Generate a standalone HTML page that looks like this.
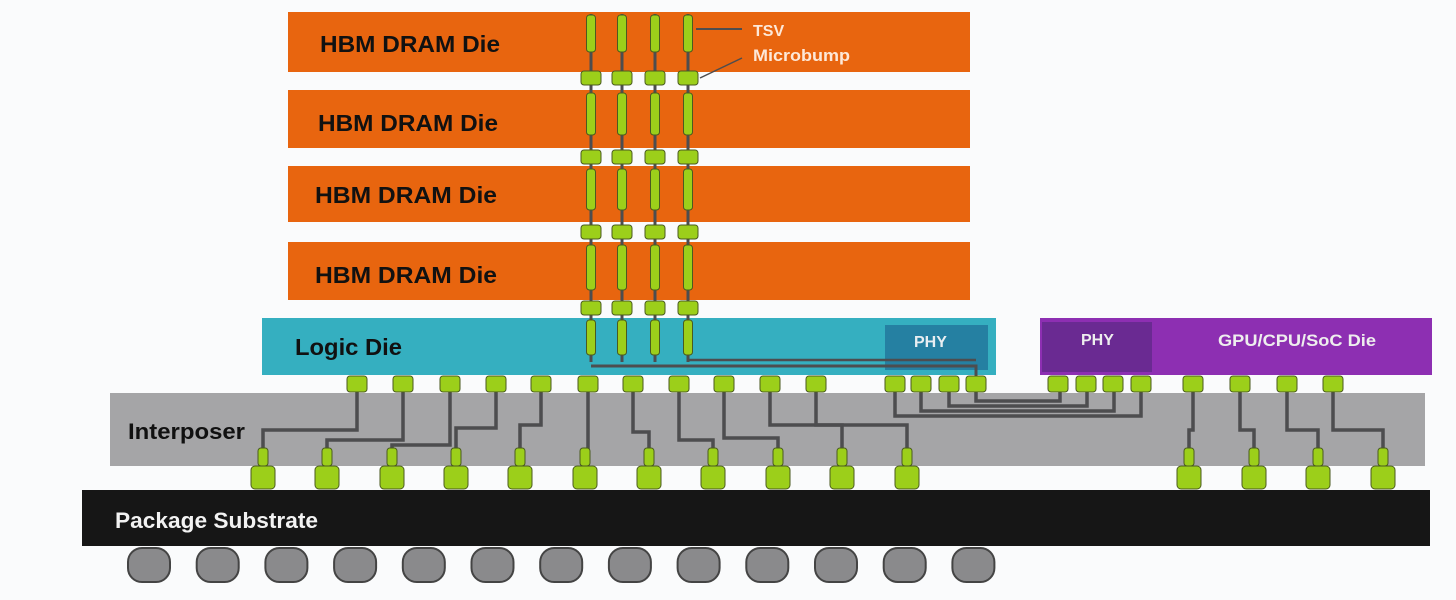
<!DOCTYPE html>
<html><head><meta charset="utf-8"><style>
html,body{margin:0;padding:0;background:#fafbfc;width:1456px;height:600px;overflow:hidden}
svg{display:block}
text{font-family:"Liberation Sans",sans-serif;font-weight:bold}
</style></head><body>
<svg id="s" width="1456" height="600" viewBox="0 0 1456 600" xmlns="http://www.w3.org/2000/svg">
<rect x="0" y="0" width="1456" height="600" fill="#fafbfc"/>
<g id="dies">
<rect x="288" y="12" width="682" height="60" fill="#e8650f"/>
<rect x="288" y="90" width="682" height="58" fill="#e8650f"/>
<rect x="288" y="166" width="682" height="56" fill="#e8650f"/>
<rect x="288" y="242" width="682" height="58" fill="#e8650f"/>
<rect x="262" y="318" width="734" height="57" fill="#35afc0"/>
<rect x="885" y="325" width="103" height="45" fill="#2580a2"/>
<rect x="1040" y="318" width="392" height="57" fill="#8d2fb2"/>
<rect x="1042" y="322" width="110" height="50" fill="#6a2a92"/>
<rect x="110" y="393" width="1315" height="73" fill="#a5a5a7"/>
<rect x="82" y="490" width="1348" height="56" fill="#161616"/>
</g>
<g id="wires" stroke="#4d4d4f" stroke-width="3.5" fill="none"></g>
<g id="parts"></g>
<g>
<text x="320" y="52" font-size="23" fill="#111" textLength="180" lengthAdjust="spacingAndGlyphs">HBM DRAM Die</text>
<text x="318" y="131" font-size="23" fill="#111" textLength="180" lengthAdjust="spacingAndGlyphs">HBM DRAM Die</text>
<text x="315" y="203" font-size="23" fill="#111" textLength="182" lengthAdjust="spacingAndGlyphs">HBM DRAM Die</text>
<text x="315" y="283" font-size="23" fill="#111" textLength="182" lengthAdjust="spacingAndGlyphs">HBM DRAM Die</text>
<text x="295" y="355" font-size="23" fill="#111" textLength="107" lengthAdjust="spacingAndGlyphs">Logic Die</text>
<text x="914" y="347" font-size="16" fill="#e8eef2" font-weight="normal">PHY</text>
<text x="1081" y="345" font-size="16" fill="#eee" font-weight="normal">PHY</text>
<text x="1218" y="346" font-size="17" fill="#eee" font-weight="normal" textLength="158" lengthAdjust="spacingAndGlyphs">GPU/CPU/SoC Die</text>
<text x="128" y="439" font-size="22" fill="#111" textLength="117" lengthAdjust="spacingAndGlyphs">Interposer</text>
<text x="115" y="528" font-size="22" fill="#f2f2f2" textLength="203" lengthAdjust="spacingAndGlyphs">Package Substrate</text>
<text x="753" y="36" font-size="16" fill="#fde8d8">TSV</text>
<text x="753" y="61" font-size="17" fill="#fde8d8" font-weight="normal" textLength="97" lengthAdjust="spacingAndGlyphs">Microbump</text>
</g>
</svg>
<script>
(function(){
var NS="http://www.w3.org/2000/svg";
function el(p,t,a){var e=document.createElementNS(NS,t);for(var k in a)e.setAttribute(k,a[k]);document.getElementById(p).appendChild(e);return e;}
var G="#9ccf1a",S="#4a5a20";
el("wires","line",{x1:696,y1:29,x2:742,y2:29,"stroke-width":2});
el("wires","line",{x1:700,y1:78,x2:742,y2:58,"stroke-width":1.5});
var cols=[591,622,655,688];
cols.forEach(function(x){
  el("wires","line",{x1:x,y1:14,x2:x,y2:362,"stroke-width":3});
  [[15,52],[93,135],[169,210],[245,290],[320,355]].forEach(function(r){
    el("parts","rect",{x:x-4.5,y:r[0],width:9,height:r[1]-r[0],rx:3,fill:G,stroke:S,"stroke-width":1});
  });
  [78,157,232,308].forEach(function(y){
    el("parts","rect",{x:x-10,y:y-7,width:20,height:14,rx:3,fill:G,stroke:S,"stroke-width":1});
  });
});
el("wires","polyline",{points:"591,366 976,366 976,383","stroke-width":3});
el("wires","polyline",{points:"688,360 976,360","stroke-width":2.5});
var tops=[357,403,450,496,541,588,633,679,724,770,816];
var bots=[263,327,392,456,520,585,649,713,778,842,907];
var ys=[430,440,445,428,425,455,432,440,438,425,425];
tops.forEach(function(t,i){
  var b=bots[i],y=ys[i];
  el("wires","polyline",{points:t+",383 "+t+","+y+" "+b+","+y+" "+b+",470"});
});
[895,921,949,976].forEach(function(x,i){
  var y=416-i*5, x2=1141-i*27;
  el("wires","polyline",{points:x+",383 "+x+","+y+" "+x2+","+y+" "+x2+",383"});
});
var gt=[1193,1240,1287,1333],gb=[1189,1254,1318,1383];
gt.forEach(function(t,i){el("wires","polyline",{points:t+",383 "+t+",430 "+gb[i]+",430 "+gb[i]+",470"});});
tops.concat([895,921,949,976,1058,1086,1113,1141]).concat(gt).forEach(function(x){
  el("parts","rect",{x:x-10,y:376,width:20,height:16,rx:3,fill:G,stroke:S,"stroke-width":1});
});
bots.concat(gb).forEach(function(x){
  el("parts","rect",{x:x-5,y:448,width:10,height:18,rx:3,fill:G,stroke:S,"stroke-width":1});
  el("parts","rect",{x:x-12,y:466,width:24,height:23,rx:4,fill:G,stroke:S,"stroke-width":1});
});
for(var i=0;i<13;i++){
  var cx=149+i*68.7;
  el("parts","rect",{x:cx-21,y:548,width:42,height:34,rx:14,fill:"#8a8a8c",stroke:"#444","stroke-width":2});
}
})();
</script>
</body></html>
